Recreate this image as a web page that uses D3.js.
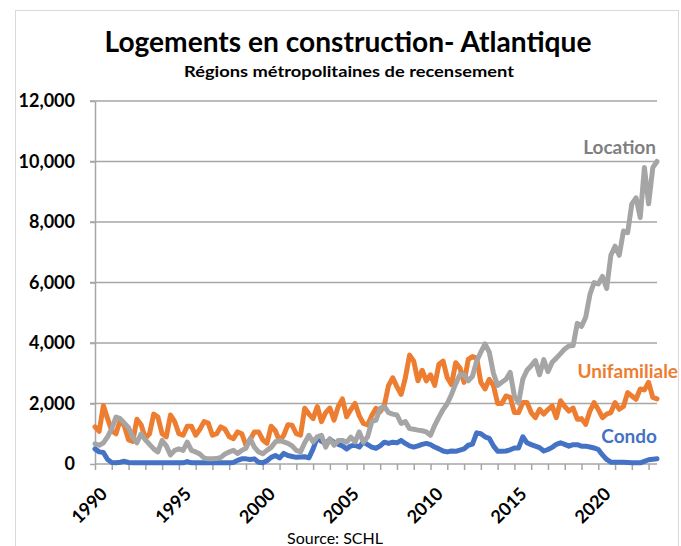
<!DOCTYPE html>
<html>
<head>
<meta charset="utf-8">
<script src="https://cdn.jsdelivr.net/npm/d3@7"></script>
<style>
  body { margin: 0; background: #fff; }
  text { font-family: Lato, "Open Sans", sans-serif; }
</style>
</head>
<body>
<div id="chart"></div>
<script>
// quarterly values, first point = 1990 Q1
var startYear = 1990;
var yTicks = [0, 2000, 4000, 6000, 8000, 10000, 12000];
var yearLabels = [1990, 1995, 2000, 2005, 2010, 2015, 2020];

var unifamiliale = [
  1230, 1080, 1930, 1500,  1100, 1000, 1450, 1250,  800, 750, 1480, 1300,
  850, 1000, 1650, 1550,  1000, 900, 1620, 1400,  1000, 950, 1250, 1250,
  950, 1150, 1400, 1350,  950, 1000, 1230, 1150,  900, 840, 1060, 1000,
  620, 800, 1060, 1060,  800, 680, 1250, 1100,  760, 950, 1300, 1280,
  1000, 950, 1840, 1650,  1500, 1900, 1400, 1700,  1850, 1450, 1900, 2150,
  1560, 1800, 2000, 1600,  1340, 1290, 1600, 1840,  1730, 1950, 2600, 2850,
  2550, 2300, 2850, 3600,  3400, 2750, 3100, 2750,  2950, 2600, 3300, 3400,
  2850, 2620, 3350, 3180,  2700, 3460, 3550, 3500,  2700, 2480, 2800, 2600,
  2000, 2000, 2250, 2200,  1700, 1700, 2030, 2030,  1700, 1530, 1810, 1650,
  1800, 1920, 1530, 2090,  1900, 1750, 1850, 1480,  1500, 1310, 1750, 2030,
  1800, 1530, 1650, 1700,  2030, 1810, 1900, 2360,  2250, 2140, 2480, 2450,
  2700, 2200, 2150
];

var location_ = [
  670, 620, 700, 900,  1170, 1550, 1500, 1350,  1200, 900, 700, 1000,
  800, 650, 500, 400,  780, 600, 300, 450,  500, 450, 720, 450,
  400, 330, 200, 170,  170, 180, 220, 330,  400, 450, 350, 450,
  520, 840, 560, 400,  340, 450, 550, 730,  780, 730, 680, 600,
  450, 400, 700, 950,  730, 900, 950, 560,  830, 620, 780, 780,
  720, 890, 730, 1060,  720, 900, 1400, 1450,  1840, 1900, 1700, 1650,
  1620, 1340, 1400, 1170,  1150, 1120, 1100, 1060,  950, 1280, 1550, 1800,
  2000, 2300, 2650, 2950,  2950, 2750, 2900, 3400,  3700, 3970, 3700, 3000,
  2600, 2700, 2800, 3030,  2240, 2020, 2800, 3100,  3250, 3420, 2950, 3450,
  3050, 3360, 3500, 3650,  3800, 3900, 3920, 4650,  4550, 4850, 5600, 6000,
  5950, 6200, 5800, 6900,  7200, 6900, 7700, 7650,  8600, 8800, 8150, 9800,
  8600, 9800, 10000
];

var condo = [
  500, 400, 380, 150,  50, 40, 60, 90,  50, 40, 40, 40,
  40, 40, 40, 40,  40, 40, 40, 40,  40, 40, 80, 40,
  40, 40, 40, 40,  40, 40, 40, 40,  40, 50, 120, 170,
  170, 150, 170, 60,  40, 110, 220, 280,  200, 350, 280, 250,
  220, 230, 240, 200,  500, 880, 750, 680,  820, 720, 650, 600,
  500, 600, 620, 560,  730, 640, 560, 520,  600, 720, 680, 720,
  700, 780, 680, 600,  560, 600, 650, 680,  640, 560, 500, 430,
  400, 430, 420, 460,  500, 620, 660, 1030,  1000, 900, 850, 600,
  420, 420, 430, 470,  530, 530, 900, 700,  640, 590, 540, 430,
  480, 550, 650, 700,  650, 590, 640, 640,  590, 590, 560, 530,
  480, 300, 150, 60,  55, 55, 55, 50,  40, 40, 40, 90,
  140, 160, 170
];

var series = [
  {name: "Unifamiliale", values: unifamiliale, color: "#ED7D31"},
  {name: "Condo", values: condo, color: "#4472C4"},
  {name: "Location", values: location_, color: "#A5A5A5"}
];

var width = 681, height = 546;

var svg = d3.select("#chart")
  .append("svg")
    .attr("width", width)
    .attr("height", height);

// outer frame
svg.append("rect")
  .attr("x", 15.5).attr("y", 10.5)
  .attr("width", 663).attr("height", 560)
  .attr("fill", "none")
  .attr("stroke", "#d9d9d9")
  .attr("stroke-width", 1);

// titles
svg.append("text")
  .attr("x", 348).attr("y", 52)
  .attr("text-anchor", "middle")
  .attr("font-size", 28)
  .attr("font-weight", "bold")
  .attr("textLength", 487)
  .attr("lengthAdjust", "spacingAndGlyphs")
  .text("Logements en construction- Atlantique");

svg.append("text")
  .attr("x", 349).attr("y", 77)
  .attr("text-anchor", "middle")
  .attr("font-size", 15)
  .attr("font-weight", "bold")
  .attr("textLength", 330)
  .attr("lengthAdjust", "spacingAndGlyphs")
  .text("Régions métropolitaines de recensement");

// scales
var x = d3.scaleLinear()
  .domain([1990, 2023.5])
  .range([95, 657]);

var y = d3.scaleLinear()
  .domain([0, 12000])
  .range([464, 101]);

// gridlines
svg.append("g")
  .selectAll("line")
  .data(yTicks.slice(1))
  .enter()
  .append("line")
    .attr("x1", 90).attr("x2", 657)
    .attr("y1", function(d) { return y(d); })
    .attr("y2", function(d) { return y(d); })
    .attr("stroke", "#a6a6a6")
    .attr("stroke-width", 1.5);

// y axis
var yAxis = svg.append("g")
  .attr("transform", "translate(95,0)")
  .call(d3.axisLeft(y).tickValues(yTicks).tickSize(5).tickSizeOuter(0).tickFormat(d3.format(",")));
yAxis.selectAll("line, path").attr("stroke", "#a6a6a6").attr("stroke-width", 1.5);
yAxis.selectAll("text")
  .attr("x", -20)
  .attr("font-family", "Lato, sans-serif")
  .attr("font-size", 18)
  .attr("font-weight", "bold")
  .attr("fill", "#000");

// x axis
var years = d3.range(1990, 2024);
var xAxis = svg.append("g")
  .attr("transform", "translate(0,464)")
  .call(d3.axisBottom(x).tickValues(years).tickSize(6).tickSizeOuter(0)
    .tickFormat(function(d) { return yearLabels.indexOf(d) >= 0 ? d : ""; }));
xAxis.select(".domain").attr("d", "M95,0H657");
xAxis.selectAll("line, path").attr("stroke", "#a6a6a6").attr("stroke-width", 1.5);
xAxis.selectAll("text")
  .attr("font-family", "Lato, sans-serif")
  .attr("font-size", 18)
  .attr("font-weight", "bold")
  .attr("fill", "#000")
  .attr("text-anchor", "end")
  .attr("y", 0)
  .attr("dy", 0)
  .attr("transform", "translate(13,31) rotate(-45)");

// lines
var line = d3.line()
  .x(function(d, i) { return x(startYear + i / 4); })
  .y(function(d) { return y(d); });

series.forEach(function(s) {
  svg.append("path")
    .datum(s.values)
    .attr("d", line)
    .attr("fill", "none")
    .attr("stroke", s.color)
    .attr("stroke-width", 5)
    .attr("stroke-linejoin", "round")
    .attr("stroke-linecap", "round");
});

// series labels
var labels = [
  {text: "Location", x: 656, y: 154, color: "#7F7F7F"},
  {text: "Unifamiliale", x: 678, y: 378, color: "#ED7D31"},
  {text: "Condo", x: 657, y: 443, color: "#4472C4"}
];
svg.selectAll("text.lab")
  .data(labels)
  .enter()
  .append("text")
    .attr("class", "lab")
    .attr("x", function(d) { return d.x; })
    .attr("y", function(d) { return d.y; })
    .attr("text-anchor", "end")
    .attr("font-size", 19)
    .attr("font-weight", "bold")
    .attr("fill", function(d) { return d.color; })
    .text(function(d) { return d.text; });

// source
svg.append("text")
  .attr("x", 335).attr("y", 544)
  .attr("text-anchor", "middle")
  .attr("font-size", 16)
  .text("Source: SCHL");
</script>
</body>
</html>
